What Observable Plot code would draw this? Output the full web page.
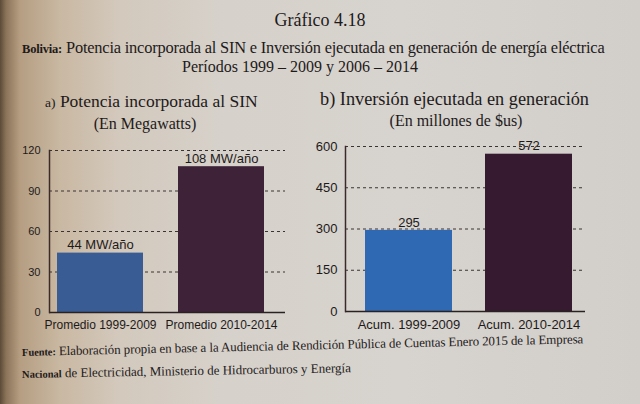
<!DOCTYPE html>
<html><head><meta charset="utf-8">
<script src="https://cdn.jsdelivr.net/npm/d3@7"></script>
<script src="https://cdn.jsdelivr.net/npm/@observablehq/plot@0.6"></script>
<style>
html,body{margin:0;padding:0;}
#page{position:relative;width:640px;height:404px;overflow:hidden;
 background:linear-gradient(90deg,#5c4a38 0px,#8a7358 6px,#b59e82 20px,#c9b8a2 60px,#d3c9bd 120px,#d6d1ca 220px,#d7d3ce 400px,#d2cfcb 640px);
 color:#1e1a1a;}
.t{position:absolute;white-space:nowrap;font-family:"Liberation Serif","DejaVu Serif",serif;}
.c{text-align:center;}
.chart{position:absolute;}
</style></head>
<body><div id="page">
<div class="t c" style="left:0;width:640px;top:10px;font-size:18px;">Gráfico 4.18</div>
<div class="t" style="left:22px;top:38px;font-size:16.4px;letter-spacing:-0.2px;"><span style="font-size:12.5px;font-weight:bold;">Bolivia:</span> Potencia incorporada al SIN e Inversión ejecutada en generación de energía eléctrica</div>
<div class="t c" style="left:0;width:600px;top:58px;font-size:16px;">Períodos 1999 – 2009 y 2006 – 2014</div>
<div class="t" style="left:45px;top:91px;font-size:17.5px;"><span style="font-size:13.5px;">a)</span> Potencia incorporada al SIN</div>
<div class="t c" style="left:45px;width:200px;top:115px;font-size:16px;">(En Megawatts)</div>
<div class="t" style="left:320px;top:89px;font-size:18.3px;">b) Inversión ejecutada en generación</div>
<div class="t c" style="left:356px;width:200px;top:112px;font-size:16px;">(En millones de $us)</div>
<div class="t" style="left:22px;top:344px;font-size:13px;letter-spacing:-0.1px;transform:rotate(-1.3deg);transform-origin:0 50%;"><span style="font-size:10.5px;font-weight:bold;">Fuente:</span> Elaboración propia en base a la Audiencia de Rendición Pública de Cuentas Enero 2015 de la Empresa</div>
<div class="t" style="left:22px;top:366px;font-size:13px;transform:rotate(-1deg);transform-origin:0 50%;"><span style="font-size:10.5px;font-weight:bold;">Nacional</span> de Electricidad, Ministerio de Hidrocarburos y Energía</div>
<div id="c1" class="chart" style="left:0;top:140px;"></div>
<div id="c2" class="chart" style="left:300px;top:136px;"></div>
</div>
<script>
// Data
const catsA = ["Promedio 1999-2009", "Promedio 2010-2014"];
const valsA = [44, 108];
const labelsA = ["44 MW/año", "108 MW/año"];
const ticksA = [0, 30, 60, 90, 120];
const colorsA = ["#3a5c95", "#3d2238"];

const catsB = ["Acum. 1999-2009", "Acum. 2010-2014"];
const valsB = [295, 572];
const labelsB = ["295", "572"];
const ticksB = [0, 150, 300, 450, 600];
const colorsB = ["#2f69b4", "#361a30"];

function chart(cats, vals, labels, ticks, colors, opts) {
  const data = cats.map((c, i) => ({cat: c, v: vals[i], label: labels[i], color: colors[i]}));
  return Plot.plot({
    width: opts.width, height: opts.height,
    marginLeft: opts.ml, marginRight: opts.mr, marginTop: opts.mt, marginBottom: opts.mb,
    style: {background: "transparent", fontFamily: "'Liberation Sans', Arial, sans-serif", color: "#1e1a1a", overflow: "visible"},
    x: {domain: cats, paddingInner: opts.pi, paddingOuter: opts.po, align: opts.align, label: null},
    y: {domain: [0, ticks[ticks.length - 1]], label: null},
    marks: [
      Plot.ruleY(ticks.slice(1), {stroke: "#3a3333", strokeDasharray: "3,3", strokeWidth: 1}),
      Plot.barY(data, {x: "cat", y: "v", fill: "color"}),
      Plot.text(data, {x: "cat", y: "v", text: "label", dy: -8, fontSize: opts.valFs, fill: "#1e1a1a"}),
      Plot.axisY({ticks, tickSize: 0, tickPadding: opts.tp, fontSize: opts.tickFs, label: null}),
      Plot.axisX({tickSize: 0, tickPadding: 8, fontSize: opts.catFs, label: null}),
      Plot.ruleY([0], {stroke: "#2a2222", strokeWidth: 1.5}),
      Plot.frame({anchor: "left", stroke: "#3a2a2a", strokeWidth: 1.5})
    ]
  });
}

document.getElementById("c1").append(chart(catsA, valsA, labelsA, ticksA, colorsA,
  {width: 300, height: 200, ml: 49, mr: 15, mt: 10, mb: 28, pi: 0.29, po: 0.12, align: 0.28, tp: 9, tickFs: 11, valFs: 13, catFs: 12}));
document.getElementById("c2").append(chart(catsB, valsB, labelsB, ticksB, colorsB,
  {width: 310, height: 200, ml: 45, mr: 25, mt: 10, mb: 25, pi: 0.275, po: 0.135, align: 0.62, tp: 8, tickFs: 13, valFs: 13, catFs: 13}));
</script>
</body></html>
